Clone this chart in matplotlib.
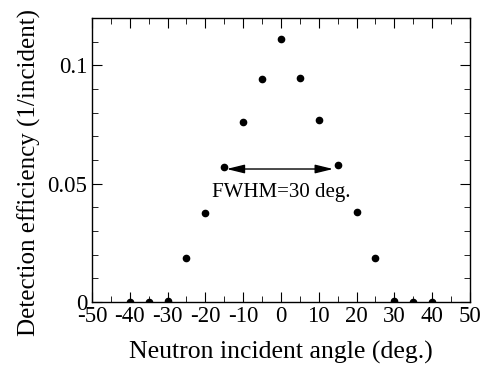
import matplotlib
matplotlib.use("Agg")
import matplotlib.pyplot as plt
from matplotlib.ticker import MultipleLocator, FixedFormatter, FixedLocator

plt.rcParams['font.family'] = ['Liberation Serif', 'DejaVu Serif']
plt.rcParams['axes.unicode_minus'] = False

# data
angles = [-40, -35, -30, -25, -20, -15, -10, -5, 0, 5, 10, 15, 20, 25, 30, 35, 40]
efficiency = [0.0, 0.0, 0.0005, 0.0185, 0.0378, 0.0572, 0.0761, 0.0944, 0.111,
              0.0946, 0.0767, 0.0578, 0.0380, 0.0185, 0.0004, 0.0, 0.0]
x_ticks = [-50, -40, -30, -20, -10, 0, 10, 20, 30, 40, 50]
y_ticks = [0, 0.05, 0.1]
y_tick_labels = ['0', '0.05', '0.1']
fwhm_left, fwhm_right, fwhm_level = -14.4, 13.8, 0.0562
fwhm_text = 'FWHM=30 deg.'

fig = plt.figure(figsize=(4.81, 3.67), dpi=100)
ax = fig.add_axes([0.1913, 0.177, 0.7857, 0.774])

ax.plot(angles, efficiency, 'o', color='black', markersize=4.5)

ax.annotate('', xy=(fwhm_left, fwhm_level), xytext=(fwhm_right, fwhm_level),
            arrowprops=dict(arrowstyle='<|-|>,head_length=0.9,head_width=0.22',
                            color='black', lw=1.0,
                            mutation_scale=12, shrinkA=0, shrinkB=0))
ax.text(0.2, 0.0462, fwhm_text, ha='center', va='center', fontsize=15)

ax.set_xlim(-50, 50)
ax.set_ylim(0, 0.12)
ax.xaxis.set_major_locator(FixedLocator(x_ticks))
ax.xaxis.set_minor_locator(MultipleLocator(5))
ax.yaxis.set_major_locator(FixedLocator(y_ticks))
ax.yaxis.set_major_formatter(FixedFormatter(y_tick_labels))
ax.yaxis.set_minor_locator(MultipleLocator(0.01))
ax.tick_params(which='both', direction='in', top=True, right=True, labelsize=16.5)
ax.tick_params(axis='x', pad=2.5)
ax.tick_params(axis='y', pad=3.5)
ax.tick_params(which='major', length=7)
ax.tick_params(which='minor', length=4)
for s in ax.spines.values():
    s.set_linewidth(1.0)

ax.set_xlabel('Neutron incident angle (deg.)', fontsize=18.5)
ax.xaxis.set_label_coords(0.5, -0.138)
ax.set_ylabel('Detection efficiency (1/incident)', fontsize=18)
ax.yaxis.label.set_va('center')
ax.yaxis.set_label_coords(-0.165, 0.456)

plt.savefig('out.png', dpi=100)
